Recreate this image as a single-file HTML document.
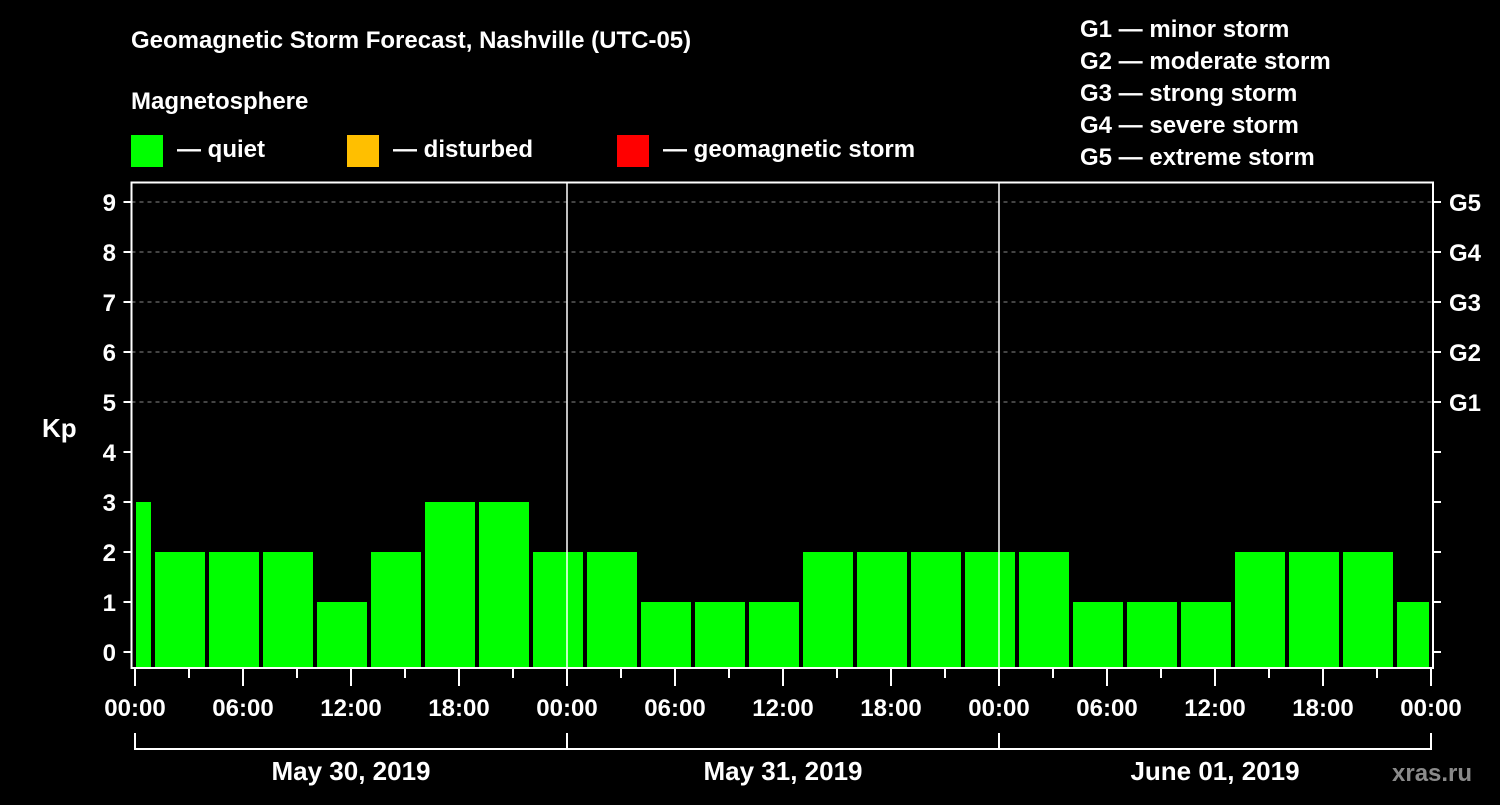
<!DOCTYPE html>
<html><head><meta charset="utf-8"><style>
body{margin:0;background:#000;width:1500px;height:800px;overflow:hidden;font-family:"Liberation Sans",Arial,sans-serif;}
svg text{font-family:"Liberation Sans",Arial,sans-serif;font-weight:bold;fill:#fff;}
</style></head><body>
<svg id="chart" width="1500" height="800" xmlns="http://www.w3.org/2000/svg">
<rect width="1500" height="800" fill="#000"/>
<text x="131" y="48" font-size="24">Geomagnetic Storm Forecast, Nashville (UTC-05)</text>
<text x="131" y="109" font-size="24">Magnetosphere</text>
<rect x="131" y="135" width="32" height="32" fill="#00ff00"/>
<text x="177" y="157" font-size="24">— quiet</text>
<rect x="347" y="135" width="32" height="32" fill="#ffbf00"/>
<text x="393" y="157" font-size="24">— disturbed</text>
<rect x="617" y="135" width="32" height="32" fill="#ff0000"/>
<text x="663" y="157" font-size="24">— geomagnetic storm</text>
<g font-size="24">
<text x="1080" y="37">G1 — minor storm</text>
<text x="1080" y="69">G2 — moderate storm</text>
<text x="1080" y="101">G3 — strong storm</text>
<text x="1080" y="133">G4 — severe storm</text>
<text x="1080" y="165">G5 — extreme storm</text>
</g>
<text x="42" y="437" font-size="26">Kp</text>
<text x="1392" y="781" font-size="24" fill="#888" style="fill:#8a8a8a">xras.ru</text>
<g id="plot"></g>
</svg>
<script>
const startValues=[3];
const values=[2,2,2,1,2,3,3,2, 2,1,1,1,2,2,2,2, 2,1,1,1,2,2,2];
const endValues=[1];
const yTicks=[0,1,2,3,4,5,6,7,8,9];
const gLabels=['G1','G2','G3','G4','G5'];
const gLevels=[5,6,7,8,9];
const xLabels=['00:00','06:00','12:00','18:00','00:00','06:00','12:00','18:00','00:00','06:00','12:00','18:00','00:00'];
const dayLabels=['May 30, 2019','May 31, 2019','June 01, 2019'];
const NS='http://www.w3.org/2000/svg';
const X0=135,PXH=18,Y0=652,PXU=50,L=131.5,R=1433,T=182.5,B=668;
const x=h=>X0+h*PXH, y=v=>Y0-v*PXU;
const plot=document.getElementById('plot');
function mk(t,a,p){const e=document.createElementNS(NS,t);for(const k in a)e.setAttribute(k,a[k]);(p||plot).appendChild(e);return e;}
yTicks.slice(1).forEach(v=>{if(v>=5){const l=mk('line',{x1:L,x2:R,y1:y(v),y2:y(v),stroke:'#888','stroke-dasharray':'4 4','stroke-width':1});

}});
function bar(h0,h1,v){const x0=Math.max(x(h0)+2,x(0)+1),x1=Math.min(x(h1)-2,x(72)-2);
const r=mk('rect',{x:x0,y:y(v),width:x1-x0,height:B-y(v),fill:'#00ff00'});

}
startValues.forEach(v=>bar(-2,1,v));
values.forEach((v,i)=>bar(1+i*3,4+i*3,v));
endValues.forEach(v=>bar(70,73,v));
[24,48].forEach(h=>{const l=mk('line',{x1:x(h),x2:x(h),y1:T,y2:B,stroke:'#fff','stroke-width':1.5});

});
const fr=mk('rect',{x:L,y:T,width:R-L,height:B-T,fill:'none',stroke:'#fff','stroke-width':2});


yTicks.forEach(v=>{mk('line',{x1:L-8,x2:L,y1:y(v),y2:y(v),stroke:'#fff','stroke-width':2});mk('line',{x1:R,x2:R+8,y1:y(v),y2:y(v),stroke:'#fff','stroke-width':2});
const t=mk('text',{x:116,y:y(v)+9,'font-size':24,'text-anchor':'end'});t.textContent=v;

});
gLabels.forEach((g,i)=>{const t=mk('text',{x:1449,y:y(gLevels[i])+9,'font-size':24});t.textContent=g;

});
for(let h=0;h<=72;h+=3){mk('line',{x1:x(h),x2:x(h),y1:B,y2:B+(h%6==0?18:10),stroke:'#fff','stroke-width':2});}
xLabels.forEach((s,i)=>{const t=mk('text',{x:x(i*6),y:716,'font-size':24,'text-anchor':'middle'});t.textContent=s;

});
mk('path',{d:`M${x(0)} 733V749H${x(72)}V733M${x(24)} 733V749M${x(48)} 733V749`,fill:'none',stroke:'#fff','stroke-width':2});
dayLabels.forEach((s,i)=>{const t=mk('text',{x:x(i*24+12),y:780,'font-size':26,'text-anchor':'middle'});t.textContent=s;

});
</script>
</body></html>
